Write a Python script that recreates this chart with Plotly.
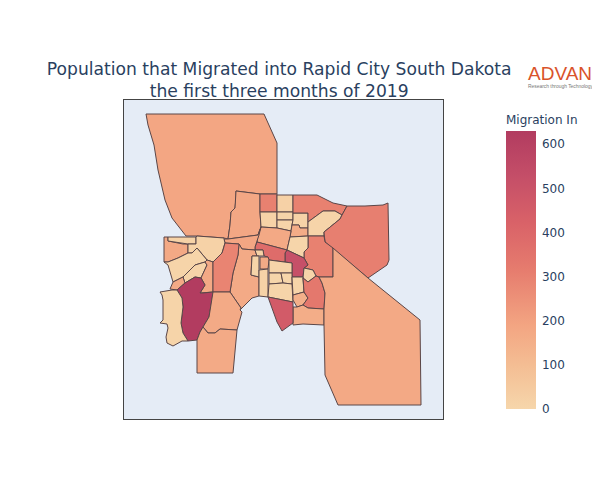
import plotly.graph_objects as go
from plotly.colors import sample_colorscale

# Census block groups around Rapid City, boundaries are [lon, lat] rings
tract_ids = [
    "A", "B", "C", "C2", "C3", "C4", "C5", "C6", "C7", "J", "D", "E", "F", "G", "I", "H",
    "K", "AA", "B2", "AE", "AF", "AG", "AH", "AI", "AJ", "AK", "AL", "AM", "AN", "AO", "M",
    "N", "O", "P", "Q", "R", "S", "T", "U", "V", "W", "L", "X", "Y", "Z", "AD",
]
migration_in = [
    185, 180, 300, 20, 15, 10, 10, 15, 165, 175, 300, 10, 305, 300, 5, 520,
    380, 185, 170, 15, 170, 10, 15, 10, 5, 5, 10, 5, 10, 150, 330,
    160, 460, 175, 175, 15, 15, 10, 10, 170, 175, 290, 630, 10, 170, 170,
]
tract_rings = [
    [[-103.378, 44.236], [-103.260, 44.236], [-103.247, 44.207], [-103.247, 44.156], [-103.264, 44.156],
     [-103.288, 44.159], [-103.288, 44.152], [-103.289, 44.142], [-103.293, 44.138], [-103.294, 44.125],
     [-103.296, 44.111], [-103.300, 44.112], [-103.327, 44.114], [-103.338, 44.114], [-103.352, 44.132],
     [-103.359, 44.150], [-103.366, 44.180], [-103.370, 44.205], [-103.376, 44.225]],
    [[-103.288, 44.159], [-103.264, 44.156], [-103.264, 44.138], [-103.263, 44.123], [-103.266, 44.115],
     [-103.296, 44.111], [-103.294, 44.125], [-103.293, 44.138], [-103.289, 44.142], [-103.288, 44.152]],
    [[-103.264, 44.156], [-103.247, 44.156], [-103.247, 44.138], [-103.264, 44.138]],
    [[-103.247, 44.155], [-103.231, 44.155], [-103.231, 44.138], [-103.247, 44.138]],
    [[-103.264, 44.138], [-103.247, 44.138], [-103.247, 44.122], [-103.263, 44.123]],
    [[-103.247, 44.138], [-103.231, 44.138], [-103.231, 44.130], [-103.247, 44.130]],
    [[-103.247, 44.130], [-103.231, 44.130], [-103.232, 44.125], [-103.233, 44.119], [-103.247, 44.122]],
    [[-103.231, 44.137], [-103.216, 44.137], [-103.216, 44.122], [-103.224, 44.122], [-103.225, 44.125],
     [-103.232, 44.125], [-103.231, 44.130]],
    [[-103.232, 44.125], [-103.225, 44.125], [-103.224, 44.122], [-103.216, 44.122], [-103.216, 44.114],
     [-103.234, 44.113], [-103.233, 44.119]],
    [[-103.263, 44.123], [-103.247, 44.122], [-103.233, 44.119], [-103.234, 44.113], [-103.237, 44.100],
     [-103.267, 44.108], [-103.266, 44.115]],
    [[-103.231, 44.155], [-103.207, 44.155], [-103.191, 44.147], [-103.177, 44.144], [-103.182, 44.135],
     [-103.189, 44.139], [-103.201, 44.139], [-103.216, 44.128], [-103.216, 44.137], [-103.231, 44.137]],
    [[-103.216, 44.128], [-103.201, 44.139], [-103.189, 44.139], [-103.182, 44.135], [-103.184, 44.131],
     [-103.200, 44.118], [-103.200, 44.114], [-103.216, 44.114], [-103.216, 44.122]],
    [[-103.177, 44.144], [-103.159, 44.144], [-103.141, 44.145], [-103.136, 44.147], [-103.135, 44.090],
     [-103.137, 44.085], [-103.156, 44.072], [-103.191, 44.102], [-103.199, 44.108], [-103.200, 44.118],
     [-103.184, 44.131], [-103.182, 44.135]],
    [[-103.216, 44.114], [-103.200, 44.114], [-103.199, 44.108], [-103.191, 44.102], [-103.191, 44.073],
     [-103.205, 44.073], [-103.208, 44.074], [-103.211, 44.080], [-103.220, 44.082], [-103.216, 44.085],
     [-103.220, 44.092], [-103.220, 44.098], [-103.216, 44.102]],
    [[-103.234, 44.113], [-103.216, 44.114], [-103.216, 44.102], [-103.220, 44.098], [-103.220, 44.092],
     [-103.237, 44.100]],
    [[-103.239, 44.097], [-103.237, 44.100], [-103.220, 44.092], [-103.216, 44.085], [-103.220, 44.082],
     [-103.221, 44.073], [-103.232, 44.073], [-103.232, 44.087], [-103.239, 44.088]],
    [[-103.267, 44.108], [-103.237, 44.100], [-103.239, 44.097], [-103.239, 44.088], [-103.255, 44.090],
     [-103.256, 44.093], [-103.260, 44.094], [-103.261, 44.100], [-103.269, 44.100], [-103.269, 44.103]],
    [[-103.300, 44.111], [-103.296, 44.111], [-103.266, 44.115], [-103.263, 44.123], [-103.265, 44.115],
     [-103.267, 44.108], [-103.269, 44.103], [-103.269, 44.100], [-103.282, 44.101], [-103.285, 44.106],
     [-103.299, 44.107]],
    [[-103.285, 44.106], [-103.282, 44.101], [-103.269, 44.100], [-103.267, 44.094], [-103.272, 44.094],
     [-103.273, 44.075], [-103.265, 44.073], [-103.265, 44.054], [-103.272, 44.052], [-103.277, 44.047],
     [-103.284, 44.040], [-103.283, 44.042], [-103.294, 44.058], [-103.291, 44.077], [-103.286, 44.095]],
    [[-103.269, 44.100], [-103.261, 44.100], [-103.260, 44.094], [-103.267, 44.094]],
    [[-103.264, 44.093], [-103.256, 44.093], [-103.255, 44.090], [-103.256, 44.081], [-103.264, 44.081]],
    [[-103.272, 44.094], [-103.265, 44.094], [-103.265, 44.073], [-103.273, 44.075]],
    [[-103.265, 44.080], [-103.256, 44.081], [-103.256, 44.053], [-103.265, 44.054]],
    [[-103.255, 44.090], [-103.239, 44.088], [-103.232, 44.087], [-103.232, 44.077], [-103.255, 44.077]],
    [[-103.255, 44.077], [-103.243, 44.077], [-103.241, 44.067], [-103.255, 44.066]],
    [[-103.243, 44.077], [-103.232, 44.077], [-103.232, 44.066], [-103.241, 44.067]],
    [[-103.255, 44.066], [-103.241, 44.067], [-103.232, 44.066], [-103.231, 44.048], [-103.256, 44.053]],
    [[-103.220, 44.082], [-103.211, 44.080], [-103.208, 44.074], [-103.216, 44.068], [-103.221, 44.072]],
    [[-103.232, 44.073], [-103.221, 44.073], [-103.221, 44.072], [-103.220, 44.058], [-103.231, 44.055]],
    [[-103.231, 44.055], [-103.220, 44.058], [-103.216, 44.052], [-103.221, 44.045], [-103.227, 44.043],
     [-103.231, 44.050]],
    [[-103.216, 44.068], [-103.208, 44.074], [-103.205, 44.073], [-103.202, 44.067], [-103.199, 44.057],
     [-103.200, 44.041], [-103.216, 44.042], [-103.221, 44.045], [-103.216, 44.052], [-103.220, 44.058],
     [-103.221, 44.072]],
    [[-103.231, 44.043], [-103.227, 44.043], [-103.221, 44.045], [-103.216, 44.042], [-103.200, 44.041],
     [-103.200, 44.025], [-103.221, 44.026], [-103.231, 44.025]],
    [[-103.256, 44.053], [-103.231, 44.048], [-103.231, 44.027], [-103.242, 44.019], [-103.247, 44.028],
     [-103.252, 44.042]],
    [[-103.191, 44.102], [-103.156, 44.072], [-103.104, 44.030], [-103.103, 43.945], [-103.186, 43.945],
     [-103.199, 43.975], [-103.200, 44.025], [-103.200, 44.041], [-103.199, 44.057], [-103.202, 44.067],
     [-103.205, 44.073], [-103.191, 44.073]],
    [[-103.360, 44.113], [-103.356, 44.113], [-103.356, 44.109], [-103.341, 44.106], [-103.336, 44.106],
     [-103.336, 44.097], [-103.346, 44.092], [-103.356, 44.088], [-103.360, 44.088]],
    [[-103.356, 44.113], [-103.328, 44.113], [-103.328, 44.106], [-103.336, 44.106], [-103.356, 44.109]],
    [[-103.328, 44.113], [-103.327, 44.114], [-103.300, 44.112], [-103.300, 44.111], [-103.299, 44.107],
     [-103.301, 44.100], [-103.302, 44.097], [-103.311, 44.088], [-103.317, 44.090], [-103.327, 44.102],
     [-103.332, 44.097], [-103.336, 44.097], [-103.336, 44.106], [-103.328, 44.106]],
    [[-103.360, 44.088], [-103.356, 44.088], [-103.346, 44.092], [-103.336, 44.097], [-103.332, 44.097],
     [-103.327, 44.102], [-103.317, 44.090], [-103.319, 44.088], [-103.329, 44.085], [-103.341, 44.073],
     [-103.351, 44.068], [-103.356, 44.085]],
    [[-103.329, 44.085], [-103.319, 44.088], [-103.317, 44.085], [-103.323, 44.072], [-103.329, 44.073],
     [-103.339, 44.067], [-103.341, 44.073]],
    [[-103.351, 44.068], [-103.341, 44.073], [-103.339, 44.067], [-103.347, 44.060], [-103.354, 44.061]],
    [[-103.317, 44.090], [-103.311, 44.088], [-103.311, 44.058], [-103.321, 44.057], [-103.324, 44.057],
     [-103.319, 44.065], [-103.323, 44.072], [-103.317, 44.085], [-103.319, 44.088]],
    [[-103.311, 44.088], [-103.302, 44.097], [-103.301, 44.100], [-103.299, 44.107], [-103.285, 44.106],
     [-103.286, 44.095], [-103.291, 44.077], [-103.294, 44.058], [-103.311, 44.058]],
    [[-103.347, 44.060], [-103.339, 44.067], [-103.329, 44.073], [-103.323, 44.072], [-103.319, 44.065],
     [-103.324, 44.057], [-103.321, 44.057], [-103.311, 44.058], [-103.312, 44.050], [-103.315, 44.033],
     [-103.321, 44.023], [-103.324, 44.018], [-103.327, 44.010], [-103.336, 44.009], [-103.341, 44.017],
     [-103.343, 44.027], [-103.341, 44.043], [-103.342, 44.052]],
    [[-103.364, 44.058], [-103.352, 44.060], [-103.347, 44.060], [-103.342, 44.052], [-103.341, 44.043],
     [-103.343, 44.027], [-103.341, 44.017], [-103.336, 44.009], [-103.342, 44.009], [-103.351, 44.004],
     [-103.357, 44.007], [-103.358, 44.013], [-103.356, 44.022], [-103.357, 44.026], [-103.364, 44.027],
     [-103.361, 44.030], [-103.361, 44.050], [-103.362, 44.055]],
    [[-103.311, 44.058], [-103.294, 44.058], [-103.283, 44.042], [-103.284, 44.040], [-103.282, 44.038],
     [-103.284, 44.030], [-103.287, 44.020], [-103.304, 44.021], [-103.309, 44.017], [-103.316, 44.017],
     [-103.321, 44.023], [-103.315, 44.033], [-103.312, 44.050]],
    [[-103.327, 44.010], [-103.324, 44.018], [-103.321, 44.023], [-103.316, 44.017], [-103.309, 44.017],
     [-103.304, 44.021], [-103.287, 44.020], [-103.291, 43.977], [-103.327, 43.977]],
]
colorscale_stops = [
    [0.0, "#f6d6ab"], [0.16, "#f4bd93"], [0.3, "#f3a582"], [0.5, "#e67c6e"],
    [0.67, "#d96268"], [0.84, "#c44e68"], [1.0, "#b23c60"],
]
z_max = 630

fig = go.Figure()

# geo traces need the topojson from the cdn, so the tracts are filled polygons instead
for tract_id, ring, value in zip(tract_ids, tract_rings, migration_in):
    closed = ring + ring[:1]
    fig.add_trace(go.Scatter(
        x=[p[0] for p in closed],
        y=[p[1] for p in closed],
        mode="lines",
        fill="toself",
        fillcolor=sample_colorscale(colorscale_stops, value / z_max)[0],
        line=dict(color="#5a4648", width=1),
        name=tract_id,
        text=f"{tract_id}: {value}",
        hoverinfo="text",
        showlegend=False,
    ))

# empty trace that only carries the colorbar
fig.add_trace(go.Scatter(
    x=[None] * len(migration_in),
    y=[None] * len(migration_in),
    mode="markers",
    showlegend=False,
    marker=dict(
        color=migration_in, colorscale=colorscale_stops, cmin=0, cmax=z_max, showscale=True,
        colorbar=dict(title=dict(text="Migration In", font=dict(size=12, color="#2a3f5f")),
                      tickfont=dict(size=12, color="#2a3f5f"), outlinewidth=0, thickness=30,
                      ticks="outside", ticklen=4, tickcolor="rgba(0,0,0,0)",
                      x=1.166, xanchor="left", y=0, yanchor="bottom", len=0.994),
    ),
))

fig.update_xaxes(range=[-103.4, -103.081], showgrid=False, zeroline=False, showticklabels=False, ticks="",
                 showline=True, mirror=True, linecolor="#444", linewidth=1)
fig.update_yaxes(range=[43.931, 44.25], showgrid=False, zeroline=False, showticklabels=False, ticks="",
                 showline=True, mirror=True, linecolor="#444", linewidth=1)

fig.update_layout(
    width=600, height=500,
    font=dict(family="DejaVu Sans", color="#2a3f5f"),
    title=dict(text="Population that Migrated into Rapid City South Dakota<br>the first three months of 2019",
               x=0.452, xanchor="center", y=0.866, font=dict(size=17.15)),
    paper_bgcolor="white",
    plot_bgcolor="#e5ecf6",
    margin=dict(l=116, r=165, t=92, b=89, autoexpand=False),
)

# logo
fig.add_annotation(text="ADVAN", x=1.266, y=1.083, xref="paper", yref="paper", xanchor="left", yanchor="middle",
                   xshift=-2, showarrow=False, font=dict(family="Liberation Sans", size=19, color="#d9532b"))
fig.add_annotation(text="Research through Technology", x=1.266, y=1.043, xref="paper", yref="paper", xanchor="left",
                   xshift=-2, yanchor="middle", showarrow=False,
                   font=dict(family="Liberation Sans", size=4.9, color="#777777"))

fig.write_html("out.html")
